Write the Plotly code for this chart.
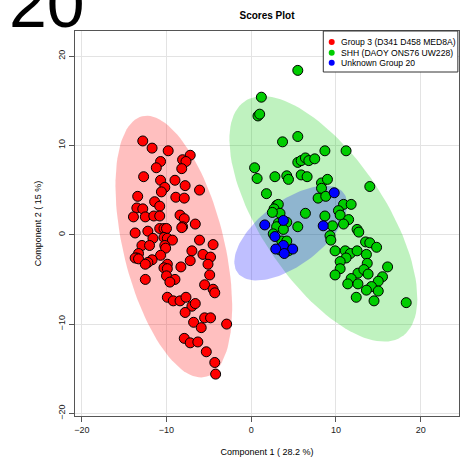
import numpy as np
import plotly.graph_objects as go

# PCA scores, component 1 / component 2
group3_pc1 = [-12.8, -11.7, -9.8, -7.2, -8.1, -7.7, -10.7, -11.2, -8.2, -12.7,
              -10.7, -9.0, -10.2, -7.8, -10.6, -6.1, -13.4, -8.9, -7.9, -11.4,
              -10.8, -13.5, -12.8, -13.9, -12.5, -11.5, -10.8, -8.4, -7.9, -8.1,
              -8.2, -6.6, -10.8, -10.3, -10.0, -13.7, -12.2, -11.6, -10.3, -9.9,
              -9.3, -6.1, -4.5, -12.9, -12.0, -10.2, -10.1, -7.0, -5.7, -4.8,
              -13.3, -13.5, -13.7, -13.3, -10.7, -11.7, -12.2, -12.5, -9.9, -10.3,
              -9.9, -8.3, -7.2, -5.1, -4.9, -10.0, -12.5, -9.0, -9.6, -5.5,
              -4.5, -4.3, -9.9, -9.2, -8.4, -7.7, -7.0, -6.6, -7.8, -6.8,
              -5.9, -5.5, -4.8, -2.9, -7.9, -7.2, -6.3, -5.3, -4.3, -4.2]
group3_pc2 = [10.5, 9.7, 9.4, 8.9, 8.4, 8.2, 8.2, 7.5, 7.4, 6.5,
              6.1, 6.1, 5.3, 5.5, 4.8, 5.0, 4.3, 4.2, 4.1, 3.7,
              3.2, 3.0, 2.9, 2.0, 2.0, 2.1, 2.1, 2.2, 1.8, 0.9,
              0.8, 1.2, 0.7, 0.7, 0.7, 0.2, 0.4, -0.4, -0.3, -0.4,
              -0.6, -0.6, -1.1, -1.2, -1.2, -1.2, -1.5, -1.8, -2.2, -2.5,
              -2.1, -2.6, -2.6, -2.7, -2.3, -2.8, -3.1, -3.3, -3.3, -3.7,
              -3.8, -3.6, -2.9, -3.3, -4.5, -4.6, -5.0, -5.0, -5.3, -5.6,
              -6.1, -6.5, -7.0, -7.4, -7.4, -7.0, -8.0, -7.7, -8.7, -9.8,
              -10.4, -9.3, -9.3, -10.0, -11.6, -12.1, -12.0, -13.1, -14.3, -15.6]

shh_pc1 = [1.2, 0.8, 1.0, 3.7, 5.5, 8.7, 11.2, 0.4, 0.7, 2.8,
           4.2, 4.4, 5.5, 5.9, 6.4, 6.8, 7.5, 5.9, 6.6, 8.3,
           9.0, 8.3, 14.0, 1.8, 7.9, 8.8, 5.5, 10.9, 11.8, 10.3,
           10.5, 11.5, 10.9, 8.7, 9.6, 9.3, 9.4, 12.5, 12.7, 13.5,
           14.0, 14.8, 9.9, 11.1, 11.7, 12.5, 13.6, 11.2, 13.7, 10.5,
           10.5, 9.9, 12.6, 13.3, 13.8, 16.1, 15.5, 15.0, 11.8, 11.4,
           12.6, 14.2, 13.6, 15.0, 12.4, 14.5, 18.3, 3.0, 3.2, 2.7,
           3.4, 2.5, 6.4, 3.2, 4.2, 3.0, 3.8, 5.5, 2.6, 3.6,
           4.2, 3.4, 4.4]
shh_pc2 = [15.4, 13.3, 13.5, 10.4, 11.0, 9.4, 9.4, 7.5, 6.3, 6.5,
           6.6, 6.2, 8.1, 8.3, 8.6, 8.3, 8.5, 6.7, 6.5, 5.8,
           6.2, 5.2, 5.4, 4.6, 4.1, 4.3, 18.4, 3.4, 3.4, 2.7,
           2.2, 1.7, 1.2, 2.1, 1.0, -0.1, -0.6, 0.6, 0.3, -0.8,
           -0.9, -1.4, -1.8, -1.8, -2.1, -1.8, -2.2, -2.6, -3.2, -3.0,
           -3.8, -4.5, -4.3, -3.9, -4.4, -3.6, -4.7, -5.2, -4.9, -5.5,
           -5.5, -5.8, -6.2, -6.3, -7.0, -7.4, -7.6, 3.3, 3.4, 2.9,
           2.4, 2.5, 2.4, 1.3, 1.4, 0.9, 0.6, 0.9, 0.1, -0.7,
           -0.7, -1.7, -1.8]

unknown_pc1 = [9.8, 8.5, 1.6, 3.8, 2.8, 3.8, 2.9, 4.9, 3.9]
unknown_pc2 = [4.7, 1.0, 1.1, 1.6, -0.2, -1.2, -1.6, -1.6, -2.1]

group_names = ["Group 3 (D341 D458 MED8A)", "SHH (DAOY ONS76 UW228)", "Unknown Group 20"]
group_colors = ["#FF0000", "#00CD00", "#0000FF"]
group_fills = ["rgba(255,0,0,0.25)", "rgba(0,205,0,0.25)", "rgba(0,0,255,0.25)"]
group_x = [group3_pc1, shh_pc1, unknown_pc1]
group_y = [group3_pc2, shh_pc2, unknown_pc2]

FONT = "Liberation Sans, Arial, Helvetica, sans-serif"


def confidence_ellipse(x, y, level=0.95, n=120):
    """95% normal-theory ellipse around the group centroid."""
    pts = np.column_stack([x, y])
    centre = pts.mean(axis=0)
    cov = np.cov(pts, rowvar=False)
    vals, vecs = np.linalg.eigh(cov)
    t = np.sqrt(-2.0 * np.log(1.0 - level))  # sqrt(qchisq(level, 2))
    theta = np.linspace(0, 2 * np.pi, n)
    circle = np.vstack([np.cos(theta), np.sin(theta)])
    ell = vecs @ (np.sqrt(vals)[:, None] * circle) * t
    return centre[0] + ell[0], centre[1] + ell[1]


fig = go.Figure()

# shaded confidence regions first so the points sit on top
for xs, ys, fill in zip(group_x, group_y, group_fills):
    ex, ey = confidence_ellipse(xs, ys)
    fig.add_trace(go.Scatter(x=ex, y=ey, mode="lines", fill="toself",
                             fillcolor=fill, line=dict(width=0),
                             hoverinfo="skip", showlegend=False))

for name, xs, ys, col in zip(group_names, group_x, group_y, group_colors):
    fig.add_trace(go.Scatter(x=xs, y=ys, mode="markers", name=name,
                             marker=dict(size=10, color=col,
                                         line=dict(color="black", width=1)),
                             showlegend=False))

axis_common = dict(
    showline=True, mirror=True, linecolor="#555555", linewidth=1,
    ticks="outside", ticklen=5, tickcolor="#555555",
    showgrid=True, gridcolor="#e3e3e3", gridwidth=1, zeroline=False,
    tickvals=[-20, -10, 0, 10, 20], tickfont=dict(size=9, color="#222222"),
)

# compact boxed key in the top-right corner of the plotting region
key_left, key_right, key_bottom, key_top = 0.6466, 0.997, 0.8935, 1.0
key_rows = [0.9714, 0.9437, 0.9177]
dot_x, dot_w, dot_h = 0.6685, 6 / 384, 6 / 385
shapes = [dict(type="rect", xref="paper", yref="paper",
               x0=key_left, x1=key_right, y0=key_bottom, y1=key_top,
               line=dict(color="#333333", width=1), fillcolor="white", layer="above")]
annotations = []
for name, col, ry in zip(group_names, group_colors, key_rows):
    shapes.append(dict(type="circle", xref="paper", yref="paper",
                       x0=dot_x - dot_w / 2, x1=dot_x + dot_w / 2,
                       y0=ry - dot_h / 2, y1=ry + dot_h / 2,
                       fillcolor=col, line=dict(width=0), layer="above"))
    annotations.append(dict(text=name, xref="paper", yref="paper",
                            x=0.6883, y=ry, xanchor="left", yanchor="middle",
                            showarrow=False, font=dict(size=8.6, color="black")))

annotations.append(dict(text="20", xref="paper", yref="paper",
                        x=-0.0717, y=0.970, xanchor="center", yanchor="bottom",
                        showarrow=False, font=dict(size=68, color="black")))

fig.update_layout(
    width=462, height=462,
    margin=dict(l=75, r=3, t=31, b=46),
    paper_bgcolor="white", plot_bgcolor="white",
    font=dict(family=FONT, color="black"),
    title=dict(text="<b>Scores Plot</b>", font=dict(size=10),
               x=0.5, xref="paper", y=1 - 15 / 462, yanchor="middle"),
    xaxis=dict(range=[-20.8, 24.53],
               title=dict(text="Component 1 ( 28.2 %)", font=dict(size=9), standoff=14),
               **axis_common),
    yaxis=dict(range=[-20.29, 22.81], tickangle=-90,
               title=dict(text="Component 2 ( 15 %)", font=dict(size=9), standoff=14),
               **axis_common),
    showlegend=False,
    shapes=shapes,
    annotations=annotations,
)

fig.write_html("out.html")
